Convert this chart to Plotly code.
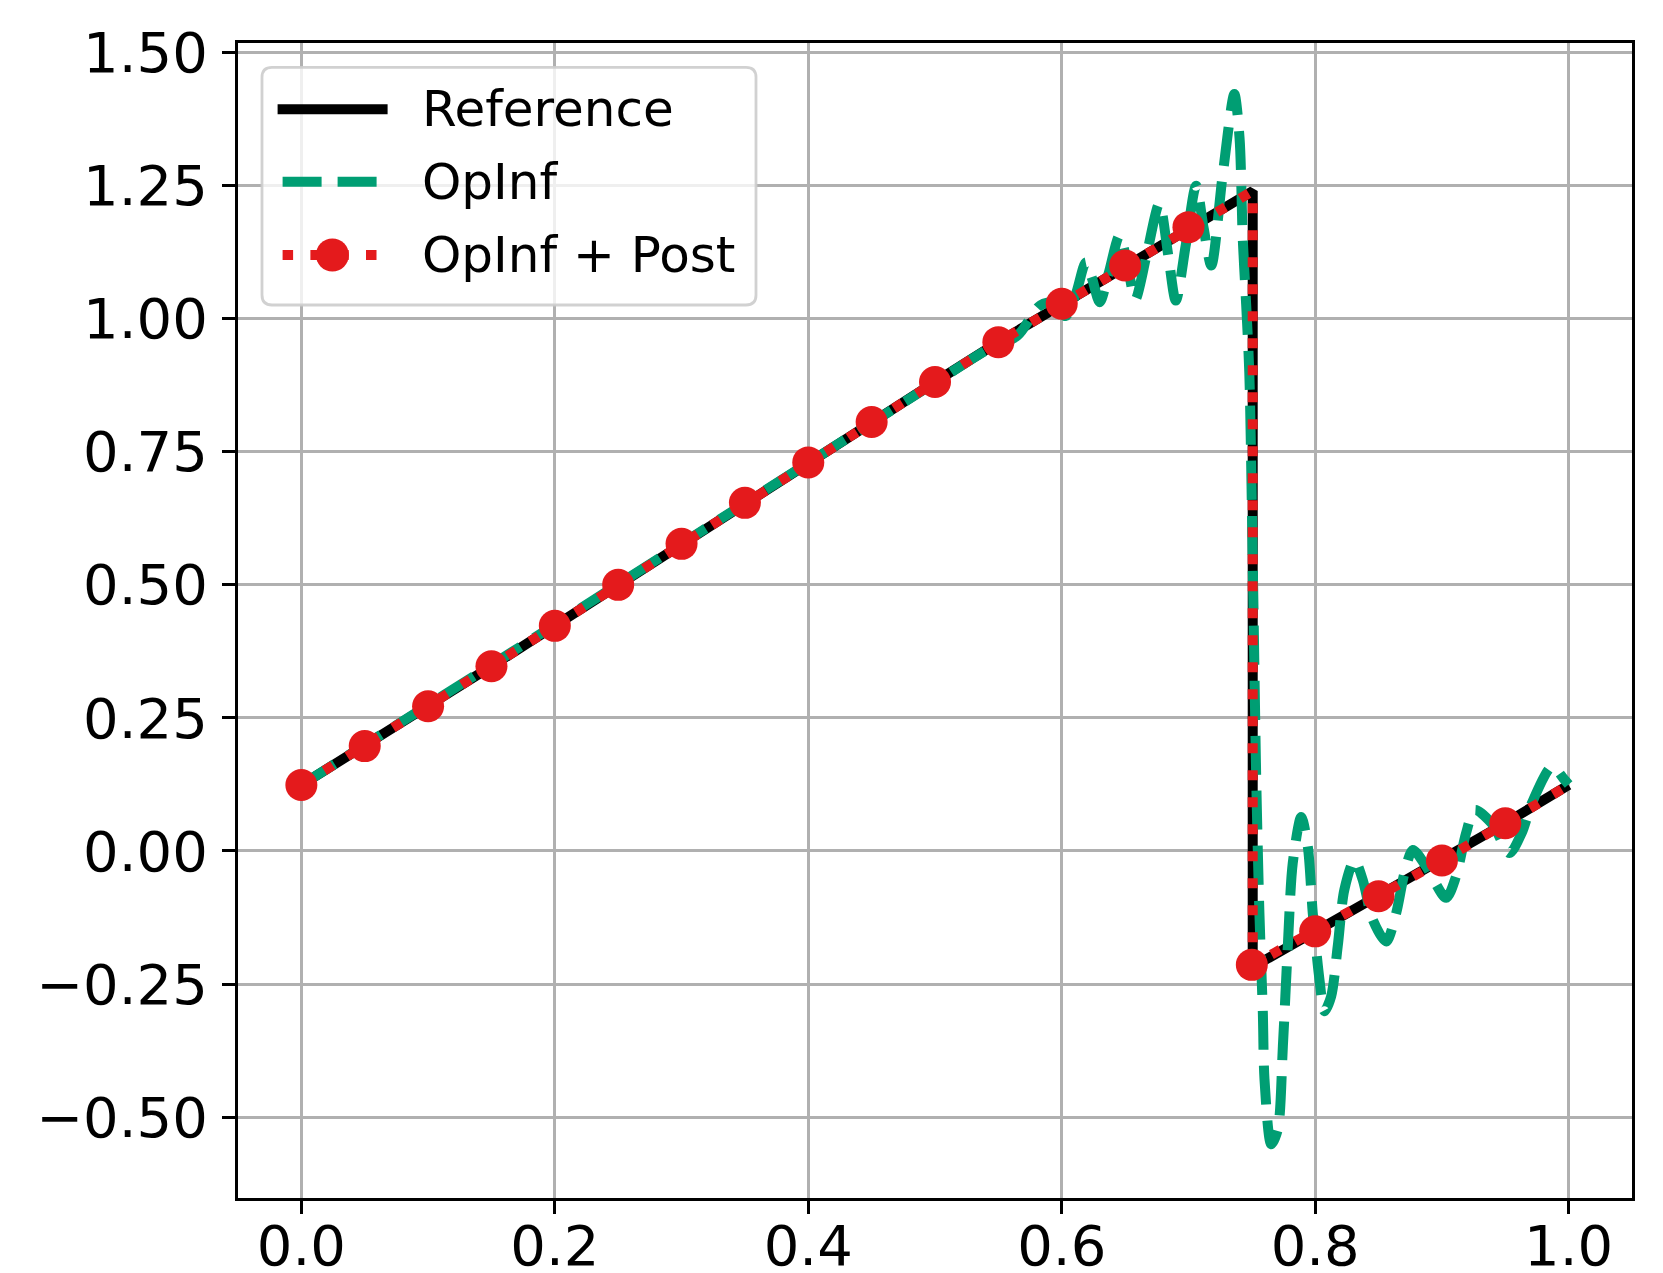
import plotly.graph_objects as go

# ---------------- data ----------------
ref_x = [0.0, 0.05, 0.10, 0.15, 0.20, 0.25, 0.30, 0.35, 0.40, 0.45, 0.50, 0.55, 0.60, 0.65, 0.70,
         0.7507, 0.7507, 0.80, 0.85, 0.90, 0.95, 1.0]
ref_y = [0.124, 0.197, 0.272, 0.347, 0.423, 0.500, 0.577, 0.654, 0.730, 0.806, 0.881, 0.956,
         1.028, 1.100, 1.172, 1.240, -0.218, -0.151, -0.085, -0.018, 0.052, 0.124]

opinf_x = [0.000, 0.100, 0.200, 0.300, 0.400, 0.500, 0.540, 0.565, 0.583, 0.594, 0.603, 0.611,
           0.619, 0.624, 0.630, 0.637, 0.6456, 0.652, 0.658, 0.667, 0.677, 0.684, 0.690, 0.698,
           0.706, 0.712, 0.718, 0.727, 0.7362, 0.7403, 0.7428, 0.7455, 0.7480, 0.7510, 0.7535,
           0.7560, 0.7587, 0.7600, 0.7653, 0.7705, 0.7745, 0.7784, 0.7823, 0.7890, 0.7942,
           0.7981, 0.8034, 0.8073, 0.8126, 0.8178, 0.8230, 0.8310, 0.8375, 0.8454, 0.8560,
           0.8639, 0.8704, 0.8770, 0.8875, 0.9033, 0.9111, 0.9190, 0.9260, 0.9400, 0.9533,
           0.9630, 0.9710, 0.9870, 0.9960, 1.0000]
opinf_y = [0.124, 0.274, 0.425, 0.577, 0.729, 0.880, 0.940, 0.968, 1.025, 1.030, 1.005, 1.045,
           1.106, 1.075, 1.031, 1.085, 1.156, 1.100, 1.036, 1.120, 1.216, 1.120, 1.034, 1.140,
           1.250, 1.170, 1.100, 1.270, 1.422, 1.340, 1.153, 1.028, 0.900, 0.500, 0.133,
           -0.117, -0.304, -0.429, -0.551, -0.523, -0.367, -0.179, -0.023, 0.064, 0.008,
           -0.117, -0.242, -0.301, -0.273, -0.179, -0.073, -0.017, -0.054, -0.129, -0.170,
           -0.117, -0.042, 0.002, -0.029, -0.088, -0.048, 0.033, 0.077, 0.050, -0.004,
           0.034, 0.090, 0.159, 0.136, 0.125]

post_x = [0.0, 0.05, 0.10, 0.15, 0.20, 0.25, 0.30, 0.35, 0.40, 0.45, 0.50, 0.55, 0.60, 0.65, 0.70,
          0.75, 0.80, 0.85, 0.90, 0.95]
post_y = [0.124, 0.197, 0.272, 0.347, 0.423, 0.500, 0.577, 0.654, 0.730, 0.806, 0.881, 0.956,
          1.028, 1.100, 1.172, -0.214, -0.151, -0.085, -0.018, 0.052]
# full OpInf + Post line (marker points plus the shock corner and right end)
post_line_x = post_x[:15] + [0.7507, 0.7507] + post_x[16:] + [1.0]
post_line_y = post_y[:15] + [1.240, -0.214] + post_y[16:] + [0.124]

x_ticks = [0.0, 0.2, 0.4, 0.6, 0.8, 1.0]
y_ticks = [-0.50, -0.25, 0.0, 0.25, 0.50, 0.75, 1.00, 1.25, 1.50]
legend_names = ["Reference", "OpInf", "OpInf + Post"]

# ---------------- styles ----------------
BLACK = "black"
GREEN = "#009e73"
RED = "#e41a1c"
LW = 10
DASH = "39px,16px"
DOT = "10px,17px"
FONT = "DejaVu Sans"

W, H = 1663, 1273
ML, MR, MT, MB = 238, 31, 43, 75
PW = W - ML - MR
PH = H - MT - MB


def px(xp):
    return (xp - ML) / PW


def py(yp):
    return 1 - (yp - MT) / PH


fig = go.Figure()
fig.add_trace(go.Scatter(x=ref_x, y=ref_y, mode="lines", name=legend_names[0],
                         line=dict(color=BLACK, width=LW), showlegend=False))
fig.add_trace(go.Scatter(x=opinf_x, y=opinf_y, mode="lines", name=legend_names[1],
                         line=dict(color=GREEN, width=LW, dash=DASH, shape="spline",
                                   smoothing=0.8), showlegend=False))
fig.add_trace(go.Scatter(x=post_line_x, y=post_line_y, mode="lines", name=legend_names[2],
                         line=dict(color=RED, width=LW, dash=DOT), showlegend=False))
fig.add_trace(go.Scatter(x=post_x, y=post_y, mode="markers", name=legend_names[2],
                         marker=dict(color=RED, size=32, line=dict(width=0)),
                         showlegend=False))

axis_common = dict(
    showline=True, linecolor="black", linewidth=3, mirror=True,
    showgrid=True, gridcolor="#b0b0b0", gridwidth=2.8, zeroline=False,
    ticks="outside", ticklen=13, tickwidth=3, tickcolor="black",
    tickfont=dict(family=FONT, size=56, color="black"),
)

fig.update_xaxes(range=[-0.05, 1.05], tickvals=x_ticks, tickformat=".1f",
                 ticklabelstandoff=-16, **axis_common)
fig.update_yaxes(range=[-0.652, 1.518], tickvals=y_ticks, tickformat=".2f",
                 ticklabelstandoff=3, **axis_common)

# ---------------- legend (drawn) ----------------
bx0, bx1, by0, by1 = 262, 756, 67.3, 305
r = 10
rx, ry = r / PW, r / PH
X0, X1, Y0, Y1 = px(bx0), px(bx1), py(by0), py(by1)
path = (f"M {X0+rx},{Y0} L {X1-rx},{Y0} Q {X1},{Y0} {X1},{Y0-ry} "
        f"L {X1},{Y1+ry} Q {X1},{Y1} {X1-rx},{Y1} L {X0+rx},{Y1} Q {X0},{Y1} {X0},{Y1+ry} "
        f"L {X0},{Y0-ry} Q {X0},{Y0} {X0+rx},{Y0} Z")
shapes = [dict(type="path", path=path, xref="paper", yref="paper", layer="above",
               fillcolor="rgba(255,255,255,0.8)", line=dict(color="rgba(204,204,204,0.9)", width=2.8))]

rows = [109.3, 181.7, 255.0]
lx0, lx1 = 282.6, 382.6
shapes.append(dict(type="line", xref="paper", yref="paper", layer="above",
                   x0=px(lx0 - 5), x1=px(lx1 + 5), y0=py(rows[0]), y1=py(rows[0]),
                   line=dict(color=BLACK, width=LW)))
shapes.append(dict(type="line", xref="paper", yref="paper", layer="above",
                   x0=px(lx0), x1=px(lx1), y0=py(rows[1]), y1=py(rows[1]),
                   line=dict(color=GREEN, width=LW, dash=DASH)))
shapes.append(dict(type="line", xref="paper", yref="paper", layer="above",
                   x0=px(lx0), x1=px(lx1), y0=py(rows[2]), y1=py(rows[2]),
                   line=dict(color=RED, width=LW, dash="10.5px,17.3px")))
cx, cr = 332.4, 16.5
shapes.append(dict(type="circle", xref="paper", yref="paper", layer="above",
                   x0=px(cx - cr), x1=px(cx + cr), y0=py(rows[2] - cr), y1=py(rows[2] + cr),
                   fillcolor=RED, line=dict(width=0)))

annotations = []
for name, ry_ in zip(legend_names, rows):
    annotations.append(dict(text=name, xref="paper", yref="paper", x=px(420), y=py(ry_),
                            xanchor="left", yanchor="middle", showarrow=False,
                            font=dict(family=FONT, size=50, color="black")))

fig.update_layout(
    width=W, height=H,
    margin=dict(l=ML, r=MR, t=MT, b=MB, autoexpand=False),
    paper_bgcolor="white", plot_bgcolor="white",
    showlegend=False,
    shapes=shapes, annotations=annotations,
)

fig.write_html("out.html")
